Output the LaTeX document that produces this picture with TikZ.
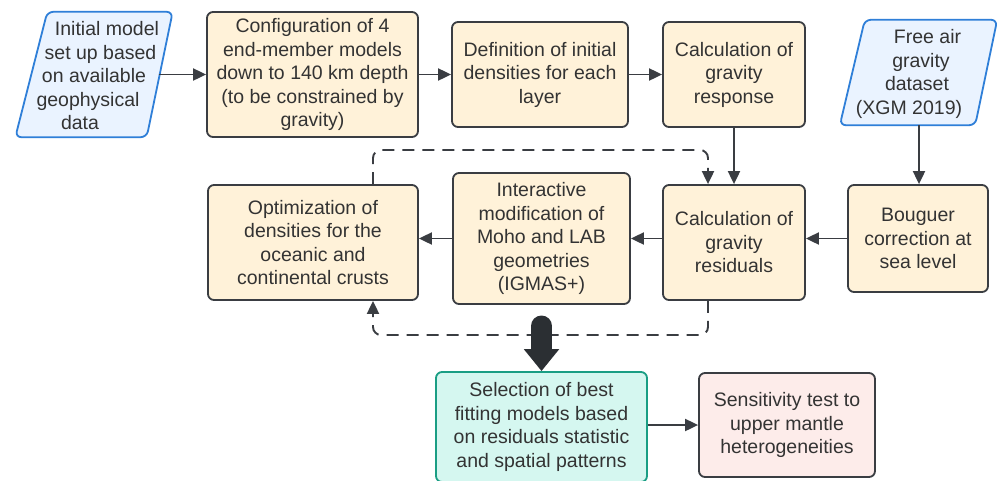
\documentclass[tikz,border=0pt]{standalone}
\usepackage{fontspec}
\setmainfont{Liberation Sans}
\usetikzlibrary{arrows.meta,calc}
\definecolor{cream}{HTML}{FFF2D9}
\definecolor{edge}{HTML}{3A3D42}
\definecolor{txt}{HTML}{333333}
\definecolor{lblue}{HTML}{EAF3FF}
\definecolor{bblue}{HTML}{2F7FD8}
\definecolor{lgreen}{HTML}{D5F7F0}
\definecolor{bgreen}{HTML}{1A9E84}
\definecolor{lpink}{HTML}{FDECEA}
\definecolor{bigarr}{HTML}{2B2F33}
\begin{document}
\begin{tikzpicture}[x=1pt,y=1pt,
  every node/.style={font=\fontsize{19.5}{23.5}\selectfont, text=txt, align=center, inner sep=0pt},
  procbox/.style={draw=edge, fill=cream, line width=1.8pt, rounded corners=6pt},
  parabox/.style={draw=bblue, fill=lblue, line width=1.8pt, rounded corners=6pt},
  conn/.style={draw=edge, line width=1.9pt, -{Triangle[length=13pt,width=12pt]}},
  dconn/.style={conn, dash pattern=on 12pt off 8pt, rounded corners=8pt}
]
\useasboundingbox (0,0) rectangle (998,-480);
\fill[white] (0,0) rectangle (998,-480);

% parallelogram 1
\node[minimum width=127pt, minimum height=125pt] (n1) at (95,-74.5) {};
\path[parabox] ($(n1.north west)+(16,0)$) -- ($(n1.north east)+(14,0)$) -- ($(n1.south east)+(-12,0)$) -- ($(n1.south west)+(-16,0)$) -- cycle;
\node at ($(n1.center)+(-1,-1.5)$) {\hbox{\kern26pt Initial model}\\\hbox{\kern13pt set up based}\\on available\\\hbox{geophysical\kern12pt}\\\hbox{data\kern28pt}};

% parallelogram 5
\node[minimum width=134pt, minimum height=105pt] (n5) at (919,-72.5) {};
\path[parabox] ($(n5.north west)+(13,0)$) -- ($(n5.north east)+(11,0)$) -- ($(n5.south east)+(-11,0)$) -- ($(n5.south west)+(-12,0)$) -- cycle;
\node at ($(n5.center)+(0,-1.5)$) {\hbox{\kern17pt Free air}\\\hbox{\kern4pt gravity}\\\hbox{dataset\kern4pt}\\\hbox{(XGM 2019)\kern20pt}};

\node[procbox, minimum width=211pt, minimum height=125pt] (n2) at (312.5,-74.5) {Configuration of 4\\end-member models\\down to 140 km depth\\(to be constrained by\\gravity)};
\node[procbox, minimum width=176pt, minimum height=105pt] (n3) at (540,-74.5) {Definition of initial\\densities for each\\layer};
\node[procbox, minimum width=142pt, minimum height=105pt] (n4) at (734,-74.5) {Calculation of\\gravity\\response};

\node[procbox, minimum width=210pt, minimum height=115pt] (n6) at (313,-242.5) {Optimization of\\densities for the\\oceanic and\\continental crusts};
\node[procbox, minimum width=177pt, minimum height=131pt] (n7) at (541.5,-238.5) {Interactive\\modification of\\Moho and LAB\\geometries\\(IGMAS+)};
\node[procbox, minimum width=142pt, minimum height=115pt] (n8) at (734,-242.5) {Calculation of\\gravity\\residuals};
\node[procbox, minimum width=140pt, minimum height=107pt] (n9) at (918,-238.5) {Bouguer\\correction at\\sea level};

\node[draw=bgreen, fill=lgreen, line width=1.8pt, rounded corners=6pt, minimum width=211pt, minimum height=110pt] (n10) at (541.5,-427) {Selection of best\\fitting models based\\on residuals statistic\\and spatial patterns};
\node[draw=edge, fill=lpink, line width=1.8pt, rounded corners=6pt, minimum width=176pt, minimum height=104pt] (n11) at (787,-425) {Sensitivity test to\\upper mantle\\heterogeneities};

% connectors
\draw[conn] (n1.east) -- (n2.west);
\draw[conn] (n2.east) -- (n3.west);
\draw[conn] (n3.east) -- (n4.west);
\draw[conn] (n4.south) -- (n8.north);
\draw[conn] (n5.south) -- (n5.south |- n9.north);
\draw[conn] (n9.west) -- (n9.west -| n8.east);
\draw[conn] (n9.west -| n8.west) -- (n9.west -| n7.east);
\draw[conn] (n9.west -| n7.west) -- (n9.west -| n6.east);
\draw[conn] (n10.east |- n11.west) -- (n11.west);

\coordinate (dtl) at (373,-150);
\coordinate (dtr) at (708,-150);
\coordinate (dbl) at (373,-335);
\coordinate (dbr) at (708,-335);
\draw[dconn] (dtl |- n6.north) -- (dtl) -- (dtr) -- (dtr |- n8.north);
\draw[dconn] (dbr |- n8.south) -- (dbr) -- (dbl) -- (dbl |- n6.south);

% big arrow
\coordinate (bigtop) at (541.5,-326);
\draw[bigarr, line width=21pt, line cap=round, -{Triangle[length=22pt,width=34pt]}] (bigtop) -- (n10.north);
\end{tikzpicture}
\end{document}
